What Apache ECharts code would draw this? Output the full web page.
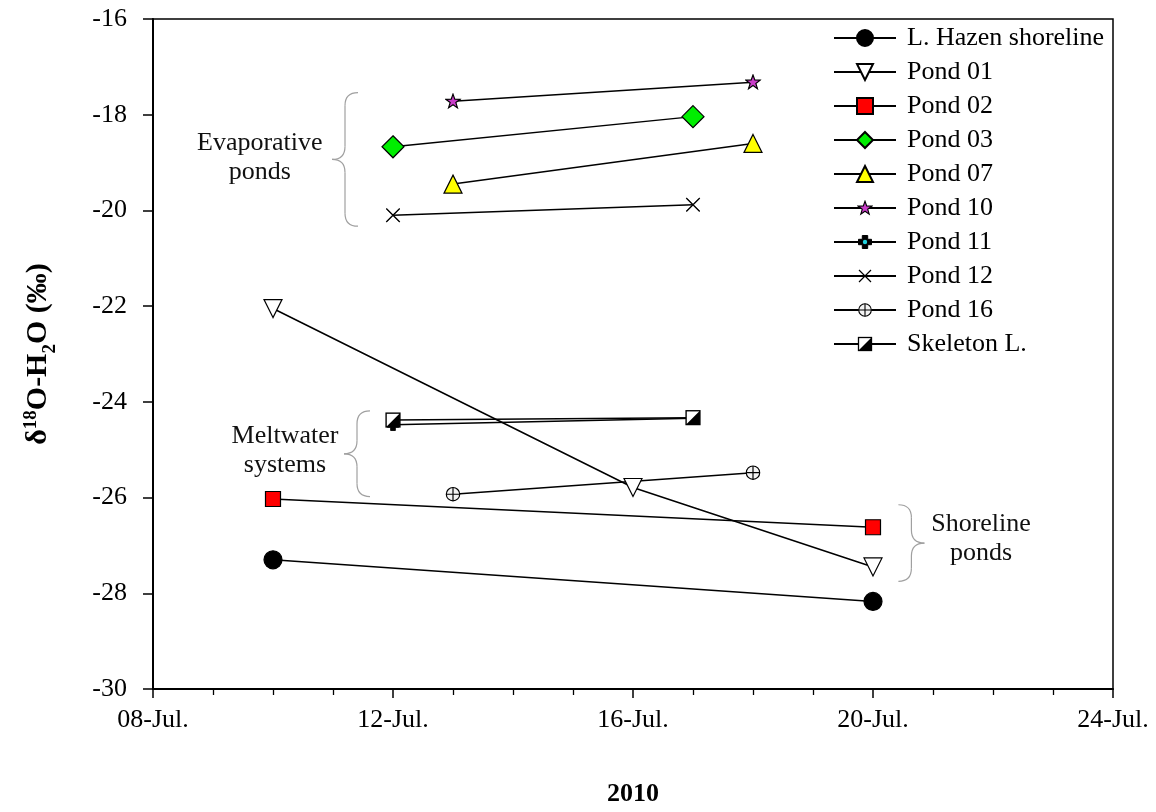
<!DOCTYPE html>
<html>
<head>
<meta charset="utf-8">
<script src="https://cdn.jsdelivr.net/npm/echarts@6/dist/echarts.min.js"></script>
<style>
html,body{margin:0;padding:0;background:#fff;}
#c{width:1156px;height:812px;}
</style>
</head>
<body>
<div id="c"></div>
<script>
// ---- data (x = day of July 2010, y = d18O-H2O permil) ----
const xTicks = [8, 12, 16, 20, 24];
const yTicks = [-16, -18, -20, -22, -24, -26, -28, -30];

const hazenDays = [10, 20];       const hazenVals = [-27.3, -28.17];
const pond01Days = [10, 16, 20];  const pond01Vals = [-22.05, -25.79, -27.45];
const pond02Days = [10, 20];      const pond02Vals = [-26.03, -26.62];
const pond03Days = [12, 17];      const pond03Vals = [-18.67, -18.04];
const pond07Days = [13, 18];      const pond07Vals = [-19.45, -18.6];
const pond10Days = [13, 18];      const pond10Vals = [-17.72, -17.32];
const pond11Days = [12, 17];      const pond11Vals = [-24.48, -24.34];
const pond12Days = [12, 17];      const pond12Vals = [-20.1, -19.88];
const pond16Days = [13, 18];      const pond16Vals = [-25.93, -25.48];
const skelDays = [12, 17];        const skelVals = [-24.38, -24.33];

const seriesNames = ['L. Hazen shoreline','Pond 01','Pond 02','Pond 03','Pond 07','Pond 10','Pond 11','Pond 12','Pond 16','Skeleton L.'];

// ---- annotation text ----
const groupLabels = ['Evaporative\nponds', 'Meltwater\nsystems', 'Shoreline\nponds'];

function pairs(d, v){ return d.map((x,i)=>[x, v[i]]); }
function svgSym(inner){
  const s = "<svg xmlns='http://www.w3.org/2000/svg' width='32' height='32' viewBox='0 0 16 16'>" + inner + "</svg>";
  return 'image://data:image/svg+xml;charset=utf-8,' + encodeURIComponent(s);
}
const symStar = svgSym("<path d='M8 1.2 L9.7 6 L14.8 6.1 L10.7 9.2 L12.2 14.2 L8 11.2 L3.8 14.2 L5.3 9.2 L1.2 6.1 L6.3 6 Z' fill='#c83cc8' stroke='black' stroke-width='1.1'/>");
const symP11 = svgSym("<path d='M5.3 1.5 H10.7 V5.3 H14.5 V10.7 H10.7 V14.5 H5.3 V10.7 H1.5 V5.3 H5.3 Z' fill='black' stroke='black' stroke-width='1' stroke-linejoin='round'/><circle cx='8' cy='8' r='2.2' fill='#22d4e0'/>");
const symX = svgSym("<path d='M2 2 L14 14 M14 2 L2 14' stroke='black' stroke-width='1.2' fill='none'/>");
const symP16 = svgSym("<circle cx='8' cy='8' r='6.3' fill='#f4f4f4' stroke='black' stroke-width='1.1'/><path d='M8 1.7 V14.3 M1.7 8 H14.3' stroke='black' stroke-width='1.1'/>");
const symSkel = svgSym("<rect x='1.5' y='1.5' width='13' height='13' fill='white' stroke='black' stroke-width='1.3'/><path d='M14.5 1.5 L14.5 14.5 L1.5 14.5 Z' fill='black'/>");

const FONT = 'Liberation Serif';
const FS = 26;
const lineStyle = {color:'#000', width:1.5};
function mk(name, days, vals, symbol, size, fill, extra){
  return Object.assign({
    name, type:'line', data:pairs(days, vals),
    symbol, symbolSize:size, showSymbol:true,
    lineStyle, itemStyle:{color:fill, borderColor:'#000', borderWidth:1.2},
    emphasis:{disabled:true}, animation:false, z:3
  }, extra||{});
}

const series = [
  mk(seriesNames[0], hazenDays, hazenVals, 'circle', 18, '#000'),
  mk(seriesNames[1], pond01Days, pond01Vals, 'triangle', 18, '#fff', {symbolRotate:180}),
  mk(seriesNames[2], pond02Days, pond02Vals, 'rect', 15, '#ff0000'),
  mk(seriesNames[3], pond03Days, pond03Vals, 'diamond', 22, '#00ee00'),
  mk(seriesNames[4], pond07Days, pond07Vals, 'triangle', 18, '#ffff00'),
  mk(seriesNames[5], pond10Days, pond10Vals, symStar, 17, '#c83cc8'),
  mk(seriesNames[6], pond11Days, pond11Vals, symP11, 14, '#000'),
  mk(seriesNames[7], pond12Days, pond12Vals, symX, 18, '#000'),
  mk(seriesNames[8], pond16Days, pond16Vals, symP16, 17, '#fff'),
  mk(seriesNames[9], skelDays, skelVals, symSkel, 17, '#fff')
];

const chart = echarts.init(document.getElementById('c'), null, {renderer:'canvas'});
const gridBox = {left:153, top:19, right:43, bottom:121};
chart.setOption({
  backgroundColor:'#fff',
  animation:false,
  textStyle:{fontFamily:FONT},
  grid:Object.assign({show:true, borderColor:'#000', borderWidth:1.5, backgroundColor:'transparent', containLabel:false}, gridBox),
  legend:{
    data:seriesNames, orient:'vertical', left:828, top:20,
    itemWidth:62, itemHeight:20, itemGap:8,
    textStyle:{fontFamily:FONT, fontSize:FS, color:'#000', padding:[0,0,0,6]},
    selectedMode:false
  },
  xAxis:{
    type:'value', min:xTicks[0], max:xTicks[xTicks.length-1], interval:4,
    axisLine:{show:true, onZero:false, lineStyle:{color:'#000', width:2}},
    axisTick:{show:true, length:9, inside:false, lineStyle:{color:'#000', width:1.5}},
    minorTick:{show:true, splitNumber:4, length:6, lineStyle:{color:'#000', width:1.3}},
    splitLine:{show:false},
    axisLabel:{fontFamily:FONT, fontSize:FS, color:'#000', margin:18,
      formatter:v=> (v<10?'0':'')+v+'-Jul.'},
    name:'2010', nameLocation:'middle', nameGap:92,
    nameTextStyle:{fontFamily:FONT, fontSize:FS, fontWeight:'bold', color:'#000'}
  },
  yAxis:{
    type:'value', min:yTicks[yTicks.length-1], max:yTicks[0], interval:2,
    axisLine:{show:true, onZero:false, lineStyle:{color:'#000', width:2}},
    axisTick:{show:true, length:10, inside:false, lineStyle:{color:'#000', width:1.5}},
    splitLine:{show:false},
    axisLabel:{fontFamily:FONT, fontSize:FS, color:'#000', margin:26},
    name:'{b|δ}{sup|18}{b|O-H}{sub|2}{b|O (‰)}', nameLocation:'middle', nameGap:100, nameRotate:90,
    nameTextStyle:{
      fontFamily:FONT, color:'#000',
      rich:{
        b:{fontFamily:FONT, fontSize:30, fontWeight:'bold', color:'#000', verticalAlign:'bottom', lineHeight:34},
        sup:{fontFamily:FONT, fontSize:19, fontWeight:'bold', color:'#000', verticalAlign:'bottom', lineHeight:34, padding:[0,0,12,0]},
        sub:{fontFamily:FONT, fontSize:19, fontWeight:'bold', color:'#000', verticalAlign:'bottom', lineHeight:34, padding:[0,0,-7,0]}
      }
    }
  },
  series
});

// ---- annotations: braces and group labels, placed in data coordinates ----
const braces = [
  {x:11.2, y0:-17.54, y1:-20.33, dir:-1},
  {x:11.4, y0:-24.19, y1:-25.98, dir:-1},
  {x:20.64, y0:-26.15, y1:-27.75, dir:1}
];
const labelPos = [[9.78, -18.9], [10.2, -25.02], [21.8, -26.85]];

function px(p){ return chart.convertToPixel({gridIndex:0}, p); }
const gfx = [];
braces.forEach(b=>{
  const top = px([b.x, b.y0]), bot = px([b.x, b.y1]);
  const xs = top[0], yt = top[1], yb = bot[1], ym = (yt+yb)/2;
  const r = 13, d = b.dir; // d=-1: '{' tip to left ; d=1: '}' tip to right
  const st = {stroke:'#a0a0a0', lineWidth:1.2, fill:null};
  gfx.push({type:'bezierCurve', shape:{x1:xs - d*r, y1:yt, cpx1:xs, cpy1:yt, x2:xs, y2:yt+r}, style:st, silent:true});
  gfx.push({type:'line', shape:{x1:xs, y1:yt+r, x2:xs, y2:ym-r}, style:st, silent:true});
  gfx.push({type:'bezierCurve', shape:{x1:xs, y1:ym-r, cpx1:xs, cpy1:ym, x2:xs + d*r, y2:ym}, style:st, silent:true});
  gfx.push({type:'bezierCurve', shape:{x1:xs + d*r, y1:ym, cpx1:xs, cpy1:ym, x2:xs, y2:ym+r}, style:st, silent:true});
  gfx.push({type:'line', shape:{x1:xs, y1:ym+r, x2:xs, y2:yb-r}, style:st, silent:true});
  gfx.push({type:'bezierCurve', shape:{x1:xs, y1:yb-r, cpx1:xs, cpy1:yb, x2:xs - d*r, y2:yb}, style:st, silent:true});
});
groupLabels.forEach((t,i)=>{
  const p = px(labelPos[i]);
  gfx.push({type:'text', x:p[0], y:p[1], silent:true,
    style:{text:t, fontFamily:FONT, fontSize:FS, fill:'#111', align:'center', verticalAlign:'middle', lineHeight:29}});
});
chart.setOption({graphic:{elements:gfx}});
</script>
</body>
</html>
